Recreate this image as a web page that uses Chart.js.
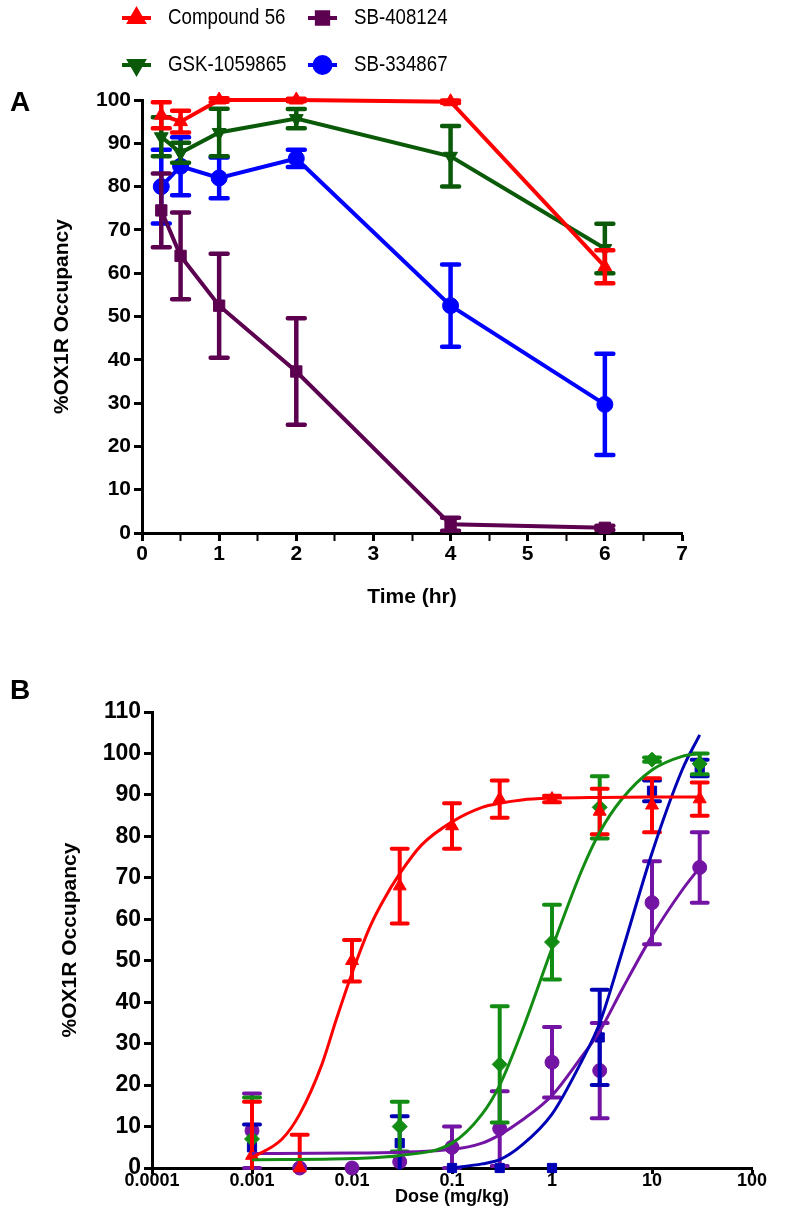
<!DOCTYPE html>
<html lang="en">
<head>
    <meta charset="UTF-8">
    <title>OX1R occupancy</title>
    <script src="https://cdn.jsdelivr.net/npm/chart.js"></script>
    <style>
        body { margin: 0; background: #fff; }
        #page { position: relative; width: 793px; height: 1206px; }
        canvas { position: absolute; left: 0; }
        .panel { position: absolute; left: 10px; font: bold 28px 'Liberation Sans', Arial, sans-serif; }
    </style>
</head>
<body>
<div id="page">
    <canvas id="chartA" width="793" height="620" style="top:0"></canvas>
    <canvas id="chartB" width="793" height="566" style="top:640px"></canvas>
    <div class="panel" style="top:86px">A</div>
    <div class="panel" style="top:674px">B</div>
</div>

<script>
    // ---- panel A : occupancy vs time ----
    const timeHr = [0.25, 0.5, 1, 2, 4, 6];
    const c56Time = [96.5, 95, 100, 100, 99.6, 61.5];
    const c56TimeErr = [3, 2.5, 0.4, 0.3, 0.3, 3.8];
    const sb408Time = [74.5, 64, 52.5, 37.3, 2, 1.2];
    const sb408TimeErr = [8.5, 10, 12, 12.3, 1.5, 0.5];
    const gskTime = [91.5, 87.8, 92.5, 95.7, 87, 65.7];
    const gskTimeErr = [4.5, 2.3, 5.5, 2.2, 7, 5.7];
    const sb334Time = [80, 84.7, 82, 86.5, 52.5, 29.7];
    const sb334TimeErr = [8.5, 6.7, 4.7, 2, 9.5, 11.7];

    // ---- panel B : occupancy vs dose ----
    const c56Dose = [0.001, 0.003, 0.01, 0.03, 0.1, 0.3, 1, 3, 10, 30];
    const c56Occ = [3, 0, 50, 68, 82.5, 89, 89, 86, 87.5, 89];
    const c56Err = [13, 8, 5, 9, 5.5, 4.5, 0.8, 5.5, 6.5, 4];
    const gskDose = [0.001, 0.03, 0.3, 1, 3, 10, 30];
    const gskOcc = [7, 10, 25, 54.5, 87, 98.5, 97.5];
    const gskErr = [10, 6, 14, 9, 7.5, 0.5, 2.5];
    const sb334Dose = [0.001, 0.03, 0.1, 0.3, 1, 3, 10, 30];
    const sb334Occ = [5, 6, 0, 0, 0, 31.5, 91, 96.5];
    const sb334Err = [5.5, 6.5, 0, 0, 0, 11.5, 2.5, 2];
    const sb408Dose = [0.001, 0.003, 0.01, 0.03, 0.1, 0.3, 1, 3, 10, 30];
    const sb408Occ = [9, 0, 0, 1.5, 5, 9.5, 25.5, 23.5, 64, 72.5];
    const sb408Err = [9, 0, 0, 0, 5, 9, 8.5, 11.5, 10, 8.5];

    // fitted curves
    const c56FitDose = [0.001, 0.002, 0.003, 0.005, 0.007, 0.01, 0.015, 0.02, 0.03, 0.05, 0.1, 0.2, 0.3, 0.5, 1, 3, 10, 30];
    const c56FitOcc = [2.5, 7, 13, 25, 36, 47, 58, 64, 71, 78, 83.5, 87, 88, 88.8, 89.2, 89.4, 89.5, 89.5];
    const gskFitDose = [0.001, 0.01, 0.03, 0.1, 0.2, 0.3, 0.5, 1, 2, 3, 5, 10, 20, 30];
    const gskFitOcc = [2, 2.3, 3, 6, 13, 20, 33, 53, 72, 81, 89, 96, 99.3, 100];
    const sb334FitDose = [0.1, 0.2, 0.3, 0.5, 1, 2, 3, 5, 10, 20, 30];
    const sb334FitOcc = [0, 1, 2, 5.5, 13, 26, 35, 52, 76, 96, 104.5];
    const sb408FitDose = [0.001, 0.01, 0.1, 0.2, 0.3, 0.5, 1, 2, 3, 5, 10, 20, 30];
    const sb408FitOcc = [3.5, 3.6, 4.5, 6, 8, 11.5, 17.5, 27, 33, 43, 56, 67, 72.5];

    const doseTicks = [0.0001, 0.001, 0.01, 0.1, 1, 10, 100];
    const doseTickLabels = ['0.0001', '0.001', '0.01', '0.1', '1', '10', '100'];

    const RED = '#ff0000';
    const PLUM = '#5c0050';
    const GREEN_A = '#0a5a0a';
    const BLUE_A = '#0000ff';
    const GREEN_B = '#128c12';
    const BLUE_B = '#0000b4';
    const PURPLE_B = '#7414a4';

    const FONT = "'Liberation Sans', Arial, sans-serif";
    Chart.defaults.font.family = FONT;
    Chart.defaults.color = '#000';

    const pts = (xs, ys) => xs.map((x, i) => ({ x: x, y: ys[i] }));

    // vertical error bars with caps, under each dataset's own points
    const errorBars = {
        id: 'errorBars',
        beforeDatasetDraw(chart, args) {
            const ds = chart.data.datasets[args.index];
            if (!ds.errors) return;
            const xs = chart.scales.x, ys = chart.scales.y, ctx = chart.ctx;
            const cap = ds.capHalf || 8;
            ctx.save();
            ctx.strokeStyle = ds.borderColor;
            ctx.lineWidth = ds.errWidth || 4;
            ctx.lineCap = 'round';
            ds.data.forEach((p, i) => {
                const e = ds.errors[i];
                if (!e) return;
                const px = xs.getPixelForValue(p.x);
                const hi = ys.getPixelForValue(p.y + e);
                const loVal = p.y - e;
                const lo = ys.getPixelForValue(Math.max(loVal, ys.min));
                ctx.beginPath();
                ctx.moveTo(px, lo); ctx.lineTo(px, hi);
                ctx.moveTo(px - cap, hi); ctx.lineTo(px + cap, hi);
                if (loVal >= ys.min) { ctx.moveTo(px - cap, lo); ctx.lineTo(px + cap, lo); }
                ctx.stroke();
            });
            ctx.restore();
        }
    };

    // 2 x 2 legend above panel A
    const legendBox = {
        id: 'legendBox',
        afterDraw(chart) {
            const ctx = chart.ctx;
            const cols = [122, 308], rows = [18, 65];
            chart.data.datasets.forEach((ds, i) => {
                const x = cols[i % 2], y = rows[Math.floor(i / 2)];
                ctx.save();
                ctx.strokeStyle = ds.borderColor;
                ctx.fillStyle = ds.backgroundColor;
                ctx.lineWidth = 4;
                ctx.beginPath(); ctx.moveTo(x, y); ctx.lineTo(x + 29, y); ctx.stroke();
                Chart.helpers.drawPoint(ctx, { pointStyle: ds.pointStyle, radius: 8, rotation: ds.rotation || 0, borderWidth: 1 }, x + 14.5, y);
                ctx.fillStyle = '#000';
                ctx.font = "22px 'Liberation Sans', Arial, sans-serif";
                ctx.textBaseline = 'middle';
                ctx.translate(x + 46, y);
                ctx.scale(0.85, 1);
                ctx.fillText(ds.label, 0, 0);
                ctx.restore();
            });
        }
    };

    const tickFont = { size: 21, weight: 'bold' };
    const titleFont = { size: 21, weight: 'bold', lineHeight: 1 };
    const noPad = s => { s.paddingTop = 0; s.paddingBottom = 0; s.paddingLeft = 0; s.paddingRight = 0; };

    function seriesA(label, ys, errs, color, style, rot) {
        return {
            label: label, data: pts(timeHr, ys), errors: errs,
            borderColor: color, backgroundColor: color, pointBackgroundColor: color,
            pointStyle: style, rotation: rot || 0, pointRadius: 8, pointBorderWidth: 1,
            showLine: true, borderWidth: 4, clip: false, errWidth: 4.5, capHalf: 8.5
        };
    }

    new Chart(document.getElementById('chartA'), {
        type: 'scatter',
        data: {
            datasets: [
                seriesA('Compound 56', c56Time, c56TimeErr, RED, 'triangle'),
                seriesA('SB-408124', sb408Time, sb408TimeErr, PLUM, 'rect'),
                seriesA('GSK-1059865', gskTime, gskTimeErr, GREEN_A, 'triangle', 180),
                seriesA('SB-334867', sb334Time, sb334TimeErr, BLUE_A, 'circle')
            ]
        },
        options: {
            responsive: false, animation: false,
            layout: { padding: { top: 100, right: 111, left: 0, bottom: 0 } },
            plugins: { legend: { display: false }, tooltip: { enabled: false } },
            scales: {
                x: {
                    type: 'linear', min: 0, max: 7,
                    ticks: { stepSize: 0.5, autoSkip: false, maxRotation: 0, padding: 1, font: tickFont,
                        callback: v => Number.isInteger(v) ? v : '' },
                    grid: { drawOnChartArea: false, tickLength: 8, tickColor: '#000',
                        tickWidth: c => Number.isInteger(c.tick.value) ? 3 : 2 },
                    border: { color: '#000', width: 3 },
                    title: { display: true, text: 'Time (hr)', font: titleFont, padding: { top: 0, bottom: 12 } },
                    afterFit: s => { s.height = 87; noPad(s); }
                },
                y: {
                    min: 0, max: 100,
                    ticks: { stepSize: 10, padding: 3, font: tickFont },
                    grid: { drawOnChartArea: false, tickLength: 8, tickColor: '#000', tickWidth: 3 },
                    border: { color: '#000', width: 3 },
                    title: { display: true, text: '%OX1R Occupancy', font: titleFont, padding: { top: 52, bottom: 0 } },
                    afterFit: s => { s.width = 142; noPad(s); }
                }
            }
        },
        plugins: [errorBars, legendBox]
    });

    function pointsB(label, xs, ys, errs, color, style, r) {
        return {
            label: label, data: pts(xs, ys), errors: errs,
            borderColor: color, backgroundColor: color, pointBackgroundColor: color,
            pointStyle: style, pointRadius: r, pointBorderWidth: 1, showLine: false, clip: false,
            errWidth: 4, capHalf: 8
        };
    }
    function curveB(xs, ys, color) {
        return {
            data: pts(xs, ys), borderColor: color, borderWidth: 3, pointRadius: 0,
            showLine: true, cubicInterpolationMode: 'monotone', clip: false
        };
    }

    new Chart(document.getElementById('chartB'), {
        type: 'scatter',
        data: {
            datasets: [
                curveB(c56FitDose, c56FitOcc, RED),
                curveB(gskFitDose, gskFitOcc, GREEN_B),
                curveB(sb334FitDose, sb334FitOcc, BLUE_B),
                curveB(sb408FitDose, sb408FitOcc, PURPLE_B),
                pointsB('Compound 56', c56Dose, c56Occ, c56Err, RED, 'triangle', 7.5),
                pointsB('GSK-1059865', gskDose, gskOcc, gskErr, GREEN_B, 'rectRot', 7.5),
                pointsB('SB-334867', sb334Dose, sb334Occ, sb334Err, BLUE_B, 'rect', 6.5),
                pointsB('SB-408124', sb408Dose, sb408Occ, sb408Err, PURPLE_B, 'circle', 7)
            ]
        },
        options: {
            responsive: false, animation: false,
            layout: { padding: { top: 72, right: 41, left: 0, bottom: 0 } },
            plugins: { legend: { display: false }, tooltip: { enabled: false } },
            scales: {
                x: {
                    type: 'logarithmic', min: 0.0001, max: 100,
                    afterBuildTicks: s => { s.ticks = doseTicks.map(v => ({ value: v })); },
                    ticks: { autoSkip: false, maxRotation: 0, padding: -2, font: { size: 18, weight: 'bold', lineHeight: 1 },
                        callback: (v, i) => doseTickLabels[i] },
                    grid: { drawOnChartArea: false, tickLength: 6, tickColor: '#000', tickWidth: 3 },
                    border: { color: '#000', width: 3 },
                    title: { display: true, text: 'Dose (mg/kg)', font: { size: 18, weight: 'bold', lineHeight: 1 }, padding: { top: 0, bottom: 0 } },
                    afterFit: s => { s.height = 38; noPad(s); }
                },
                y: {
                    min: 0, max: 110,
                    ticks: { stepSize: 10, padding: 3, font: { size: 23, weight: 'bold' } },
                    grid: { drawOnChartArea: false, tickLength: 8, tickColor: '#000', tickWidth: 3 },
                    border: { color: '#000', width: 3 },
                    title: { display: true, text: '%OX1R Occupancy', font: titleFont, padding: { top: 60, bottom: 0 } },
                    afterFit: s => { s.width = 152; noPad(s); }
                }
            }
        },
        plugins: [errorBars]
    });
</script>
</body>
</html>
